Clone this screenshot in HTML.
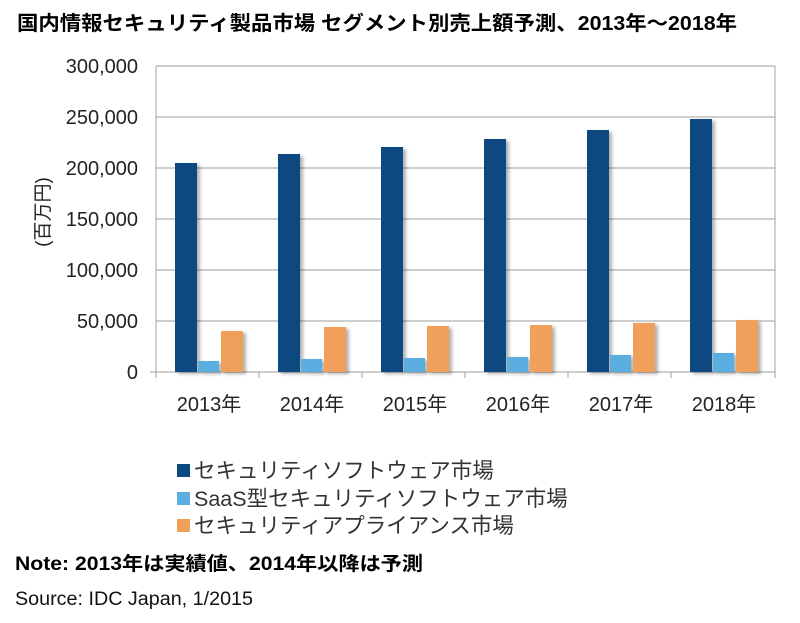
<!DOCTYPE html>
<html><head><meta charset="utf-8"><style>
body{margin:0;background:#fff;}
svg text{font-family:"Liberation Sans","Noto Sans CJK JP",sans-serif;}
</style></head><body>
<svg width="800" height="618" xmlns="http://www.w3.org/2000/svg">
<defs><filter id="sh" x="-20%" y="-5%" width="160%" height="120%"><feDropShadow dx="3" dy="2" stdDeviation="1.5" flood-color="#000" flood-opacity="0.3"/></filter></defs>
<rect width="800" height="618" fill="#fff"/>
<text x="17" y="30" font-size="20" font-weight="bold" fill="#000" textLength="720" lengthAdjust="spacingAndGlyphs">国内情報セキュリティ製品市場 セグメント別売上額予測、2013年～2018年</text>
<g stroke="#b0b0b0" stroke-width="1.2">
<line x1="156" y1="66" x2="775" y2="66"/><line x1="156" y1="117" x2="775" y2="117"/>
<line x1="156" y1="168" x2="775" y2="168"/><line x1="156" y1="219" x2="775" y2="219"/>
<line x1="156" y1="270" x2="775" y2="270"/><line x1="156" y1="321" x2="775" y2="321"/>
<line x1="156" y1="66" x2="156" y2="378"/><line x1="775" y1="66" x2="775" y2="378"/>
<line x1="150" y1="372" x2="775" y2="372"/>
<line x1="259" y1="372" x2="259" y2="378"/><line x1="362" y1="372" x2="362" y2="378"/>
<line x1="465" y1="372" x2="465" y2="378"/><line x1="568" y1="372" x2="568" y2="378"/>
<line x1="671" y1="372" x2="671" y2="378"/>
</g>
<g font-size="20" fill="#222" text-anchor="end">
<text x="138" y="73">300,000</text><text x="138" y="124">250,000</text>
<text x="138" y="175">200,000</text><text x="138" y="226">150,000</text>
<text x="138" y="277">100,000</text><text x="138" y="328">50,000</text>
<text x="138" y="379">0</text>
</g>
<text transform="translate(49,212) rotate(-90)" font-size="19" fill="#222" text-anchor="middle">(百万円)</text>
<g filter="url(#sh)">
<g fill="#0b4a80">
<rect x="175" y="163" width="22" height="209"/><rect x="278" y="154" width="22" height="218"/>
<rect x="381" y="147" width="22" height="225"/><rect x="484" y="139" width="22" height="233"/>
<rect x="587" y="130" width="22" height="242"/><rect x="690" y="119" width="22" height="253"/>
</g>
<g fill="#5aaee0">
<rect x="198" y="361" width="21" height="11"/><rect x="301" y="359" width="21" height="13"/>
<rect x="404" y="358" width="21" height="14"/><rect x="507" y="357" width="21" height="15"/>
<rect x="610" y="355" width="21" height="17"/><rect x="713" y="353" width="21" height="19"/>
</g>
<g fill="#f0a05a">
<rect x="221" y="331" width="22" height="41"/><rect x="324" y="327" width="22" height="45"/>
<rect x="427" y="326" width="22" height="46"/><rect x="530" y="325" width="22" height="47"/>
<rect x="633" y="323" width="22" height="49"/><rect x="736" y="320" width="22" height="52"/>
</g>
</g>
<g font-size="20" fill="#222" text-anchor="middle">
<text x="209" y="411">2013年</text><text x="312" y="411">2014年</text>
<text x="415" y="411">2015年</text><text x="518" y="411">2016年</text>
<text x="621" y="411">2017年</text><text x="724" y="411">2018年</text>
</g>
<rect x="177" y="464" width="13" height="13" fill="#0b4a80"/>
<rect x="177" y="492" width="13" height="13" fill="#5aaee0"/>
<rect x="177" y="519" width="13" height="13" fill="#f0a05a"/>
<g font-size="21.5" fill="#333">
<text x="194" y="478">セキュリティソフトウェア市場</text>
<text x="194" y="506">SaaS型セキュリティソフトウェア市場</text>
<text x="194" y="533">セキュリティアプライアンス市場</text>
</g>
<text x="15" y="570" font-size="19" font-weight="bold" fill="#000" textLength="408" lengthAdjust="spacingAndGlyphs">Note: 2013年は実績値、2014年以降は予測</text>
<text x="15" y="605" font-size="19" fill="#111" textLength="238" lengthAdjust="spacingAndGlyphs">Source: IDC Japan, 1/2015</text>
</svg>
</body></html>
